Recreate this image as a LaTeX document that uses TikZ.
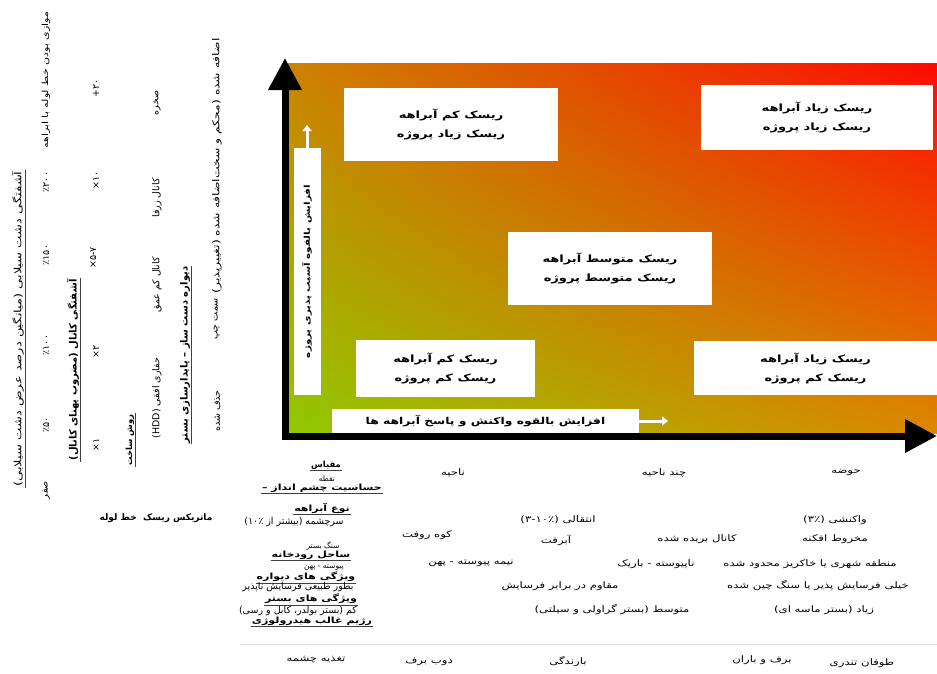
\documentclass[tikz,border=0pt]{standalone}
\usepackage{fontspec}
\usetikzlibrary{arrows.meta,shadings}
\newfontfamily\persianfont[Script=Arabic]{DejaVu Sans}
\newfontfamily\persianwide[Script=Arabic,FakeStretch=1.3]{DejaVu Sans}
\TeXXeTstate=1
\newcommand{\farsi}[1]{\beginR #1\endR}
\definecolor{riskgreen}{RGB}{145,200,0}
\definecolor{riskred}{RGB}{255,10,0}
\definecolor{riskbrown}{RGB}{205,130,0}
\definecolor{riskorange}{RGB}{220,135,0}
\tikzset{
  txt/.style={font=\persianfont\fontsize{9.5}{11}\selectfont, inner sep=1pt},
  wtxt/.style={txt, font=\persianwide\fontsize{9}{11}\selectfont},
  sml/.style={txt, font=\persianfont\fontsize{7.5}{9}\selectfont},
  uhdr/.style={txt, append after command={(\tikzlastnode.south west) edge[draw=black!75, line width=.7pt] (\tikzlastnode.south east)}},
  bhdr/.style={uhdr, font=\persianfont\bfseries\fontsize{10}{12}\selectfont},
  whdr/.style={uhdr, font=\persianwide\bfseries\fontsize{8.5}{10}\selectfont},
  up/.style={rotate=90},
  riskbox/.style={fill=white, font=\persianwide\bfseries\fontsize{10}{19}\selectfont, align=center},
  axisbox/.style={fill=white, font=\persianwide\bfseries\fontsize{8}{10}\selectfont, inner sep=0pt},
  axis/.style={line width=7pt, -{Triangle[width=32pt,length=32pt]}},
  whitearrow/.style={white, line width=3pt, -{Triangle[width=9pt,length=6pt]}}
}
\begin{document}
\begin{tikzpicture}[x=1pt,y=-1pt]
\useasboundingbox (0,0) rectangle (937,673);
\fill[white] (0,0) rectangle (937,673);
\shade[lower left=riskgreen, upper right=riskred, upper left=riskbrown, lower right=riskorange] (288,63) rectangle (937,433);
\draw[gray!25] (240,644) -- (937,644);

% axes
\coordinate (origin) at (285,436);
\coordinate (ytip) at (285,58);
\coordinate (xstart) at (281.5,436);
\coordinate (xtip) at (937,436);
\draw[axis] (origin) -- (ytip);
\draw[axis] (xstart) -- (xtip);

% risk boxes
\node[riskbox, minimum width=214, minimum height=73] (lowhigh) at (451,124.5) {\farsi{ریسک کم آبراهه}\\\farsi{ریسک زیاد پروژه}};
\node[riskbox, minimum width=232, minimum height=65] (highhigh) at (817,117.5) {\farsi{ریسک زیاد آبراهه}\\\farsi{ریسک زیاد پروژه}};
\node[riskbox, minimum width=204, minimum height=73] (medmed) at (610,268.5) {\farsi{ریسک متوسط آبراهه}\\\farsi{ریسک متوسط پروژه}};
\node[riskbox, minimum width=179, minimum height=57] (lowlow) at (445.5,368.5) {\farsi{ریسک کم آبراهه}\\\farsi{ریسک کم پروژه}};
\node[riskbox, minimum width=243, minimum height=54] (highlow) at (815.5,368) {\farsi{ریسک زیاد آبراهه}\\\farsi{ریسک کم پروژه}};

% axis labels
\node[axisbox, up, minimum width=247, minimum height=27] (vullab) at (307,271.5) {\farsi{افزایش بالقوه آسیب پذیری پروژه}};
\coordinate (vultip) at (307,125);
\draw[whitearrow] (vullab.east) -- (vultip);
\node[axisbox, font=\persianwide\bfseries\fontsize{9.5}{11}\selectfont, minimum width=307, minimum height=24] (resplab) at (485.5,421) {\farsi{افزایش بالقوه واکنش و پاسخ آبراهه ها}};
\coordinate (resptip) at (668,421);
\draw[whitearrow] (resplab.east) -- (resptip);

% left columns
\node[uhdr, up, font=\persianwide\fontsize{10}{12}\selectfont] (floodhdr) at (18,329) {\farsi{آشفتگی دشت سیلابی (میانگین درصد عرض دشت سیلابی)}};
\node[txt, up, font=\persianwide\fontsize{8.5}{10}\selectfont] (parallel) at (46,80) {\farsi{موازی بودن خط لوله با ابراهه}};
\node[txt, up] (w200) at (46,182) {٪\kern0pt۲۰۰};
\node[txt, up] (w150) at (46,255) {٪\kern0pt۱۵۰};
\node[txt, up] (w100) at (46,345) {٪\kern0pt۱۰۰};
\node[txt, up] (w50) at (46,425) {٪\kern0pt۵۰};
\node[txt, up] (w0) at (46,490) {\farsi{صفر}};
\node[bhdr, up] (chanhdr) at (73,370) {\farsi{آشفتگی کانال (مضروب پهنای کانال)}};
\node[txt, up] (c20) at (96,88) {+\kern0pt۲۰};
\node[txt, up] (c10) at (96,180) {×\kern0pt۱۰};
\node[txt, up] (c57) at (93,258) {×\kern0pt۵\kern0pt-\kern0pt۷};
\node[txt, up] (c2) at (96,352) {×\kern0pt۲};
\node[txt, up] (c1) at (96,445) {×\kern0pt۱};
\node[bhdr, up, font=\persianfont\bfseries\fontsize{8.5}{10}\selectfont] (methodhdr) at (130,440) {\farsi{روش ساخت}};
\node[txt, up] (rock) at (157,103) {\farsi{صخره}};
\node[txt, up] (deep) at (157,198) {\farsi{کانال زرفا}};
\node[txt, up] (shallow) at (157,285) {\farsi{کانال کم عمق}};
\node[txt, up] (hdd) at (157,398) {\farsi{حفاری افقی (\beginL HDD\endL)}};
\node[bhdr, up] (wallhdr) at (185,355) {\farsi{دیواره دست ساز – پایدارسازی بستر}};
\node[txt, up, font=\persianwide\fontsize{9.5}{11}\selectfont] (added) at (217,166) {\farsi{اضافه شده (محکم و سخت‌اضافه شده (تغییرپذیر)}};
\node[txt, up] (leftside) at (217,319) {\farsi{سمت چپ}};
\node[txt, up] (removed) at (217,411) {\farsi{حذف شده}};
\node[txt, font=\persianfont\bfseries\fontsize{9}{11}\selectfont] (title) at (156,518) {\farsi{ماتریکس ریسک\ \ خط لوله}};

% bottom rows
\node[uhdr, font=\persianfont\bfseries\fontsize{8.5}{10}\selectfont] (scalehdr) at (326,465) {\farsi{مقیاس}};
\node[sml] (point) at (327,479) {\farsi{نقطه}};
\node[whdr] (sensehdr) at (322,488) {\farsi{حساسیت چشم انداز –}};
\node[wtxt] (region) at (453,473) {\farsi{ناحیه}};
\node[wtxt] (multiregion) at (664,473) {\farsi{چند ناحیه}};
\node[wtxt] (basin) at (846,473) {\farsi{حوضه}};
\node[whdr] (typehdr) at (322,508) {\farsi{نوع آبراهه}};
\node[txt] (source) at (294,522) {\farsi{سرچشمه (بیشتر از ۱۰٪)}};
\node[wtxt] (transit) at (558,520) {\farsi{انتقالی (۳-۱۰٪)}};
\node[wtxt] (respond) at (835,520) {\farsi{واکنشی (۳٪)}};
\node[sml] (bedrock) at (323,546) {\farsi{سنگ بستر}};
\node[wtxt] (colluv) at (427,535) {\farsi{کوه روفت}};
\node[wtxt] (alluv) at (556,540) {\farsi{آبرفت}};
\node[wtxt] (incised) at (697,539) {\farsi{کانال بریده شده}};
\node[wtxt] (fan) at (835,539) {\farsi{مخروط افکنه}};
\node[whdr] (bankhdr) at (311,555) {\farsi{ساحل رودخانه}};
\node[sml] (contwide) at (324,568) {\farsi{پیوسته - پهن}};
\node[wtxt] (semiwide) at (471,563) {\farsi{نیمه پیوسته - پهن}};
\node[wtxt] (discnarrow) at (656,564) {\farsi{ناپیوسته - باریک}};
\node[wtxt] (urban) at (810,564) {\farsi{منطقه شهری یا خاکریز محدود شده}};
\node[whdr] (wallfeat) at (306,577) {\farsi{ویژگی های دیواره}};
\node[txt] (noerode) at (298,587) {\farsi{بطور طبیعی فرسایش ناپذیر}};
\node[wtxt] (resist) at (560,586) {\farsi{مقاوم در برابر فرسایش}};
\node[wtxt] (erodible) at (818,586) {\farsi{خیلی فرسایش پذیر یا سنگ چین شده}};
\node[whdr] (bedfeat) at (311,599) {\farsi{ویژگی های بستر}};
\node[txt] (lowbed) at (298,611) {\farsi{کم (بستر بولدر، کابل و رسی)}};
\node[wtxt] (medbed) at (612,610) {\farsi{متوسط (بستر گراولی و سیلتی)}};
\node[wtxt] (highbed) at (824,610) {\farsi{زیاد (بستر ماسه ای)}};
\node[whdr] (hydrohdr) at (312,621) {\farsi{رژیم غالب هیدرولوژی}};
\node[wtxt] (spring) at (316,660) {\farsi{تغذیه چشمه}};
\node[wtxt] (snowmelt) at (429,662) {\farsi{ذوب برف}};
\node[wtxt] (rain) at (568,662) {\farsi{بارندگی}};
\node[wtxt] (rainsnow) at (762,660) {\farsi{برف و باران}};
\node[wtxt] (storm) at (862,663) {\farsi{طوفان تندری}};
\end{tikzpicture}
\end{document}
